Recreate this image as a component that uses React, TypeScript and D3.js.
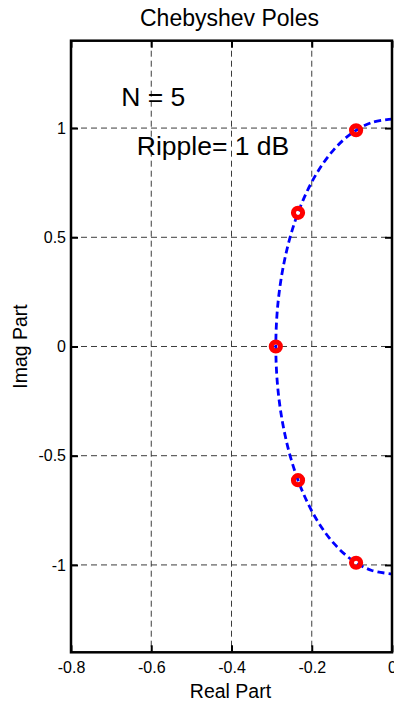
import React, { useRef, useEffect } from 'react'
import * as d3 from 'd3'

// axis ticks
const realTicks = [-0.8, -0.6, -0.4, -0.2, 0]
const imagTicks = [-1, -0.5, 0, 0.5, 1]

// pole locations (red circles)
const poleReal = [-0.0895, -0.2342, -0.2895, -0.2342, -0.0895]
const poleImag = [0.9901, 0.6119, 0, -0.6119, -0.9901]

// dashed blue trace
const traceReal = [
  0, -0.0503, -0.099, -0.1448, -0.1861, -0.2218, -0.2507, -0.272, -0.2851, -0.2895,
  -0.2851, -0.272, -0.2507, -0.2218, -0.1861, -0.1448, -0.099, -0.0503, 0
]
const traceImag = [
  1.041, 1.0253, 0.9783, 0.9016, 0.7975, 0.6692, 0.5206, 0.3561, 0.1808, 0,
  -0.1808, -0.3561, -0.5206, -0.6692, -0.7975, -0.9016, -0.9783, -1.0253, -1.041
]

const annotations = [
  { text: 'N = 5', re: -0.675, im: 1.1 },
  { text: 'Ripple= 1 dB', re: -0.636, im: 0.877 }
]

const FONT = '"Liberation Sans", Arial, Helvetica, sans-serif'

export default function App() {
  const chartRef = useRef<SVGGElement>(null)

  useEffect(() => {
    const g = d3.select(chartRef.current)
    g.selectAll('*').remove()

    const left = 71
    const right = 392
    const top = 40.7
    const bottom = 652.3
    const width = right - left
    const height = bottom - top

    const x = d3.scaleLinear().domain([-0.8, 0]).range([0, width])
    const y = d3.scaleLinear().domain([-1.4, 1.4]).range([height, 0])

    const plot = g.append('g').attr('transform', `translate(${left},${top})`)

    plot
      .append('clipPath')
      .attr('id', 'plotClip')
      .append('rect')
      .attr('width', width)
      .attr('height', height)

    // grid
    const grid = plot.append('g').attr('stroke', '#3c3c3c').attr('stroke-width', 1).attr('stroke-dasharray', '6,4')
    grid
      .selectAll('line.vx')
      .data(realTicks.slice(1, -1))
      .enter()
      .append('line')
      .attr('x1', d => x(d))
      .attr('x2', d => x(d))
      .attr('y1', 0)
      .attr('y2', height)
    grid
      .selectAll('line.hy')
      .data(imagTicks)
      .enter()
      .append('line')
      .attr('x1', 0)
      .attr('x2', width)
      .attr('y1', d => y(d))
      .attr('y2', d => y(d))

    const fmt = (d: any) => String(d)

    const styleAxis = (sel: any) => {
      sel.select('.domain').remove()
      sel.selectAll('.tick line').attr('stroke', '#000').attr('stroke-width', 2)
      sel.selectAll('.tick text').attr('fill', '#000').style('font-family', FONT).style('font-size', '16px')
    }

    plot
      .append('g')
      .attr('transform', `translate(0,${height})`)
      .call(d3.axisBottom(x).tickValues(realTicks).tickFormat(fmt).tickSizeInner(-7).tickSizeOuter(0).tickPadding(9))
      .call(styleAxis)
    plot
      .append('g')
      .call(d3.axisTop(x).tickValues(realTicks).tickFormat(() => '').tickSizeInner(-7).tickSizeOuter(0))
      .call(styleAxis)
    plot
      .append('g')
      .call(d3.axisLeft(y).tickValues(imagTicks).tickFormat(fmt).tickSizeInner(-7).tickSizeOuter(0).tickPadding(5))
      .call(styleAxis)
    plot
      .append('g')
      .attr('transform', `translate(${width},0)`)
      .call(d3.axisRight(y).tickValues(imagTicks).tickFormat(() => '').tickSizeInner(-7).tickSizeOuter(0))
      .call(styleAxis)

    // dashed trace
    const trace = d3
      .line<number>()
      .curve(d3.curveCatmullRom)
      .x(i => x(traceReal[i]))
      .y(i => y(traceImag[i]))

    plot
      .append('path')
      .datum(d3.range(traceReal.length))
      .attr('d', trace)
      .attr('clip-path', 'url(#plotClip)')
      .attr('fill', 'none')
      .attr('stroke', '#0000ff')
      .attr('stroke-width', 2.8)
      .attr('stroke-dasharray', '7,4')

    // poles
    plot
      .selectAll('circle.pole')
      .data(d3.range(poleReal.length))
      .enter()
      .append('circle')
      .attr('cx', i => x(poleReal[i]))
      .attr('cy', i => y(poleImag[i]))
      .attr('r', 4.6)
      .attr('fill', 'none')
      .attr('stroke', '#ff0000')
      .attr('stroke-width', 5)

    // box
    plot
      .append('rect')
      .attr('width', width)
      .attr('height', height)
      .attr('fill', 'none')
      .attr('stroke', '#000')
      .attr('stroke-width', 2.5)

    // annotations
    plot
      .selectAll('text.note')
      .data(annotations)
      .enter()
      .append('text')
      .attr('x', d => x(d.re))
      .attr('y', d => y(d.im))
      .style('font-family', FONT)
      .style('font-size', '26.5px')
      .attr('fill', '#000')
      .text(d => d.text)

    // titles
    g.append('text')
      .attr('x', left + width / 2 - 2)
      .attr('y', 26)
      .attr('text-anchor', 'middle')
      .style('font-family', FONT)
      .style('font-size', '23px')
      .text('Chebyshev Poles')

    g.append('text')
      .attr('x', left + width / 2 - 1)
      .attr('y', 698)
      .attr('text-anchor', 'middle')
      .style('font-family', FONT)
      .style('font-size', '19.5px')
      .text('Real Part')

    g.append('text')
      .attr('transform', `translate(27,${top + height / 2}) rotate(-90)`)
      .attr('text-anchor', 'middle')
      .style('font-family', FONT)
      .style('font-size', '19.5px')
      .text('Imag Part')
  }, [])

  return (
    <svg width={394} height={702} style={{ position: 'absolute', left: 0, top: 0, display: 'block', background: '#fff' }}>
      <g ref={chartRef} />
    </svg>
  )
}
